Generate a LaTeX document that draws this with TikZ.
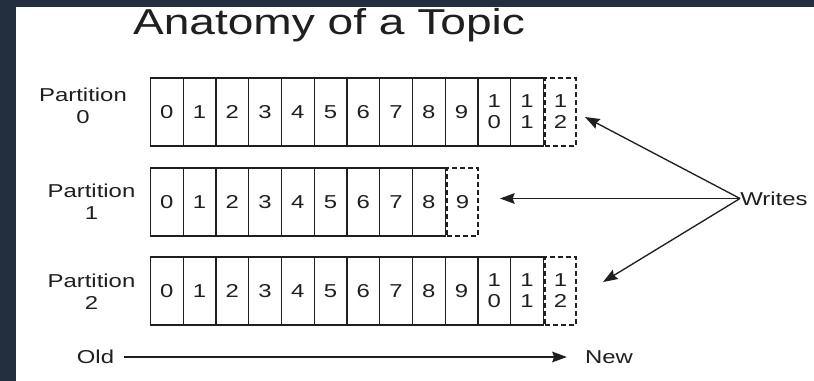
\documentclass[tikz,border=0pt]{standalone}
\usepackage{fontspec}
\setmainfont{Liberation Sans}
\usepackage{graphicx}
\usetikzlibrary{arrows.meta}
\definecolor{frame}{HTML}{232F3E}
\definecolor{ink}{HTML}{1F1F1F}
\newcommand\hs[1]{\scalebox{1.28}[1]{#1}}
\begin{document}
\begin{tikzpicture}[x=0.75pt,y=-0.75pt,
  cell/.style={draw=ink,line width=1pt,minimum width=24.5625pt,minimum height=51pt,
    inner sep=0pt,align=center,text=ink,font=\fontsize{14}{15.75}\selectfont},
  newcell/.style={cell,dash pattern=on 3.4pt off 2.6pt,minimum width=23.25pt},
  lbl/.style={inner sep=0pt,align=center,text=ink,font=\fontsize{14}{16.5}\selectfont},
  wire/.style={draw=ink,line width=1pt,-{Stealth[length=11pt,width=8pt,inset=1.5pt]}}]
\fill[frame] (0,0) rectangle (814,381);
\fill[white] (16,7) rectangle (814,381);
\useasboundingbox (0,0) rectangle (814,381);
% title
\node[anchor=base,inner sep=0pt,text=ink,font=\fontsize{27}{31}\selectfont] (title) at (329,35) {\hs{Anatomy of a Topic}};
% partition 0
\foreach \i in {0,...,9} \node[cell] (a\i) at ({150.5+32.75*(\i+0.5)},112) {\hs{\i}};
\node[cell] (a10) at ({150.5+32.75*10.5},112) {\hs{1}\\\hs{0}};
\node[cell] (a11) at ({150.5+32.75*11.5},112) {\hs{1}\\\hs{1}};
\node[newcell] (a12) at (560.5,112) {\hs{1}\\\hs{2}};
% partition 1
\foreach \i in {0,...,8} \node[cell] (b\i) at ({150.5+32.75*(\i+0.5)},202) {\hs{\i}};
\node[newcell] (b9) at (462.5,202) {\hs{9}};
% partition 2
\foreach \i in {0,...,9} \node[cell] (c\i) at ({150.5+32.75*(\i+0.5)},291) {\hs{\i}};
\node[cell] (c10) at ({150.5+32.75*10.5},291) {\hs{1}\\\hs{0}};
\node[cell] (c11) at ({150.5+32.75*11.5},291) {\hs{1}\\\hs{1}};
\node[newcell] (c12) at (560.5,291) {\hs{1}\\\hs{2}};
% labels
\node[lbl] (p0) at (83,105.7) {\hs{Partition}\\\hs{0}};
\node[lbl] (p1) at (91.5,201.7) {\hs{Partition}\\\hs{1}};
\node[lbl] (p2) at (91.5,291.3) {\hs{Partition}\\\hs{2}};
% writes
\node[lbl,anchor=west] (writes) at (740,198.5) {\hs{Writes}};
\coordinate (t0) at (585,117);
\coordinate (t1) at (500,198.5);
\coordinate (t2) at (603,282);
\draw[wire] (writes.west) -- (t0);
\draw[wire] (writes.west) -- (t1);
\draw[wire] (writes.west) -- (t2);
% old -> new
\node[lbl] (old) at (95.5,357) {\hs{Old}};
\node[lbl] (new) at (609,357) {\hs{New}};
\draw[wire,shorten <=7.5pt,shorten >=13.5pt] (old.east) -- (new.west);
\end{tikzpicture}
\end{document}
